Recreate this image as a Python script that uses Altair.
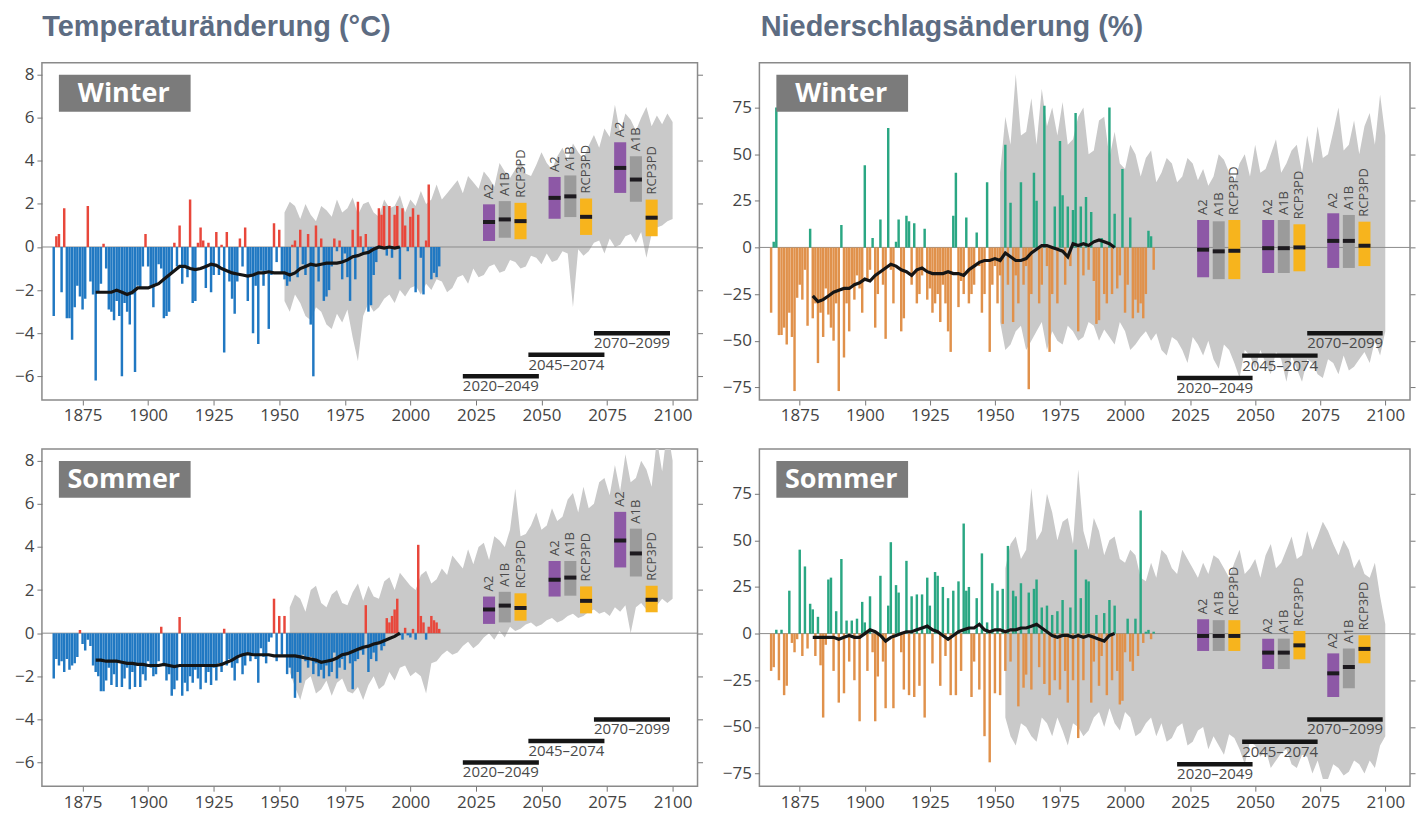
import altair as alt
import pandas as pd

FONT = "Open Sans"
TITLE_FONT = "Liberation Sans"

# ---------------- data ----------------
BAR_YEARS = list(range(1864, 2012))
LINE_YEARS = list(range(1880, 1997, 2))
BAND_YEARS_TOP = list(range(1952, 2101, 2))
BAND_YEARS_BOTTOM = list(range(1954, 2101, 2))

# Temperature winter (deg C), 1864-2011
TW_BARS = [
    -3.2, 0.5, 0.6, -2.1, 1.8, -3.3, -3.3, -4.3, -2.8, -1.8,
    -2.3, -2.9, -2.4, 1.9, -1.6, -2.2, -6.2, -2.1, -1.7, 0.15,
    -1.0, -2.9, -3.0, -3.4, -2.5, -3.2, -6.0, -2.6, -3.0, -3.6,
    -2.2, -5.8, -1.8, -1.9, -0.9, 0.6, -0.9, -1.9, -2.8, -1.8,
    -0.8, -1.0, -3.3, -3.2, -3.0, -1.2, 0.2, -0.9, 1.0, -1.7,
    -0.9, -1.4, 2.2, -2.6, -2.5, 0.2, 0.9, 0.3, -1.9, 0.2,
    -2.1, -1.3, 0.7, -1.3, 0.1, -4.9, 0.7, -1.6, -2.4, -3.1,
    -1.6, 0.4, -0.9, 0.9, -2.5, -1.3, -4.0, -1.8, -4.5, -1.1,
    -1.8, -1.1, -3.8, -1.3, 1.1, -0.7, 0.8, -1.2, -1.5, -1.8,
    -1.6, 0.1, 0.3, -1.4, 0.8, -0.8, -1.3, 0.6, -3.6, -6.0,
    1.0, -1.6, 0.4, -2.5, -2.3, -2.0, -0.9, 0.4, -0.2, 0.3,
    -1.5, -0.3, -1.4, -2.5, 0.8, -1.5, 2.1, 0.5, -0.3, 0.6,
    -3.0, -2.7, -1.3, -0.7, 1.8, 1.5, 1.9, -0.4, 1.9, -0.5,
    1.5, 1.9, -1.5, 1.8, 1.0, -0.2, 1.4, 1.8, -2.1, 1.5,
    -0.5, -2.2, 0.3, 2.9, -1.5, -1.2, -1.4, -0.9,
]
# Temperature summer (deg C), 1864-2011
TS_BARS = [
    -2.1, -1.2, -1.5, -1.3, -1.8, -1.2, -1.7, -1.5, -1.4, -1.1,
    0.15, -0.5, -0.8, -0.3, -0.6, -1.5, -1.8, -2.0, -2.7, -2.7,
    -2.2, -1.6, -2.4, -1.9, -2.5, -1.3, -2.5, -2.1, -1.6, -2.6,
    -1.8, -2.5, -1.5, -2.5, -1.9, -2.2, -1.3, -1.6, -2.0, -1.9,
    -1.3, 0.3, -1.5, -2.2, -1.9, -2.9, -2.6, -2.2, 0.75, -2.9,
    -2.3, -2.7, -2.0, -2.3, -1.7, -2.1, -2.6, -1.5, -2.3, -1.8,
    -2.4, -1.6, -2.2, -1.4, -1.8, 0.2, -1.5, -1.2, -1.6, -2.2,
    -1.4, -1.1, -1.9, -1.5, -0.9, -1.3, -1.0, -1.2, -2.3, -0.7,
    -1.1, -1.4, -0.4, -0.2, 1.6, -1.3, 0.8, -1.0, 0.8, -1.9,
    -1.6, -2.1, -3.0, -1.8, -2.3, -1.0, -1.3, -1.6, -1.1, -1.9,
    -1.4, -2.0, -1.7, -2.1, -1.5, -2.0, -1.8, -0.9, -2.1, -1.6,
    -1.2, -1.7, -1.0, -1.4, -2.6, -1.3, -1.2, -0.8, -1.0, 1.3,
    -1.8, -1.2, -0.9, -1.3, -0.5, -0.8, -0.6, 0.7, 0.5, 0.8,
    1.1, 1.6, -0.1, -0.3, 0.25, -0.1, -0.2, 0.2, -0.3, 4.1,
    0.8, 0.5, -0.3, 0.3, 0.8, 0.6, 0.5, 0.2,
]
# Precipitation winter (%), 1864-2011
PW_BARS = [
    -35, 3, 75, -47, -47, -43, -52, -35, -48, -77,
    -27, -20, -28, -12, -42, 10, -38, -30, -62, -35,
    -48, -22, -36, -43, -50, -30, -77, 12, -59, -30,
    -45, -20, -28, -15, -22, -35, 44, -18, -12, 5,
    -43, -25, 15, -20, -49, 64, -12, -30, 3, 15,
    -45, -38, 17, 14, -20, 13, -30, -25, -15, 10,
    -28, -22, -35, -30, -25, -40, -20, -30, -45, -56,
    17, 40, -32, -18, -25, 16, -30, -25, -20, 8,
    -10, -35, -25, 35, -56, -20, -10, -30, -15, -41,
    55, -20, 24, -40, -15, -30, 35, -20, -10, -76,
    -25, 40, 25, -30, -20, 76, -10, -56, -25, 22,
    -30, 57, 28, -20, 22, -10, 20, 72, -45, 22,
    -15, 27, -12, 19, -18, -41, -39, 5, -25, -30,
    75, -25, 18, -22, -15, 42, -35, -20, 16, -38,
    -28, -35, -30, -38, -25, 9, 6, -12,
]
# Precipitation summer (%), 1864-2011
PS_BARS = [
    -20, -18, 2, -25, 2, -33, -28, 23, -5, -10,
    -3, 45, -12, 36, -8, 16, 13, -12, 9, -17,
    -45, -6, 29, 30, -20, 12, -37, 40, -32, 7,
    -15, 7, -25, 8, -47, 17, 6, -20, 20, -10,
    -47, -23, 31, -15, -40, 15, 49, -40, 26, 22,
    -10, -30, 39, -33, 20, -34, 21, -28, 21, -45,
    30, 15, -16, 33, 31, -28, 25, -12, 19, -33,
    23, -33, 28, -20, 59, 23, 25, -34, -15, 19,
    -30, 43, -55, 6, -69, 27, -32, 23, -33, 24,
    -20, 47, -15, 23, 20, -39, 27, -29, -22, 22,
    -30, 24, 29, -18, 14, -27, 15, -33, 10, -25,
    12, -30, 18, -20, -37, 14, -25, 45, -56, 19,
    -25, 29, 28, -37, -15, 10, -28, -12, 11, -33,
    18, -25, 15, -20, -38, -36, -10, 8, -15, -20,
    8, -12, 66, -5, 1, 2, -3, 1,
]

# 30-year running means (1880-1996, every 2 years)
TW_LINE = [
    -2.1, -2.1, -2.1, -2.1, -2.0, -2.1, -2.2, -2.1, -1.9, -1.9,
    -1.9, -1.8, -1.7, -1.5, -1.3, -1.1, -0.9, -0.9, -1.0, -1.05,
    -1.0, -0.9, -0.8, -0.85, -1.0, -1.1, -1.2, -1.25, -1.3, -1.35,
    -1.3, -1.2, -1.2, -1.15, -1.2, -1.2, -1.2, -1.3, -1.2, -1.0,
    -0.9, -0.8, -0.85, -0.8, -0.75, -0.75, -0.75, -0.7, -0.6, -0.45,
    -0.4, -0.3, -0.25, -0.1, 0.0, -0.05, 0.0, -0.05, 0.0,
]
TS_LINE = [
    -1.25, -1.25, -1.3, -1.3, -1.3, -1.35, -1.4, -1.4, -1.45, -1.45,
    -1.5, -1.5, -1.5, -1.45, -1.5, -1.55, -1.5, -1.5, -1.5, -1.5,
    -1.5, -1.5, -1.5, -1.5, -1.45, -1.35, -1.25, -1.1, -1.0, -0.95,
    -1.0, -1.0, -1.0, -1.0, -1.05, -1.05, -1.05, -1.05, -1.05, -1.1,
    -1.15, -1.2, -1.25, -1.35, -1.3, -1.25, -1.15, -1.0, -0.95, -0.85,
    -0.75, -0.65, -0.6, -0.5, -0.45, -0.35, -0.25, -0.15, 0.0,
]
PW_LINE = [
    -26, -29, -28, -26, -24, -23, -22, -22, -20, -19,
    -17, -18, -15, -13, -11, -9, -10, -12, -13, -15,
    -12, -11, -13, -14, -14, -14, -13, -14, -14, -15,
    -12, -10, -8, -7, -7, -6, -7, -3, -5, -7,
    -7, -6, -3, -1, 1, 1, 0, -1, -2, -5,
    2, 1, 2, 1, 3, 4, 3, 2, 0,
]
PS_LINE = [
    -2, -2, -2, -2, -2, -3, -2, -1, -2, -2,
    0, 2, 1, -1, -4, -2, -1, 0, 1, 1,
    2, 3, 4, 2, 1, -1, -3, -1, 1, 2,
    3, 3, 5, 2, 1, 2, 2, 1, 2, 2,
    3, 3, 4, 5, 3, 1, -1, -2, -1, -1,
    -2, -1, -2, -1, -2, -3, -4, -1, 0,
]

# Model ensemble range (grey band), every 2 years
TW_BAND_HI = [
    1.6, 2.1, 1.9, 1.3, 2.0, 1.5, 1.2, 1.9, 1.7, 1.4,
    2.2, 1.6, 1.8, 2.3, 1.5, 2.0, 2.1, 1.6, 1.4, 2.2,
    1.8, 1.9, 2.4, 1.6, 2.2, 1.9, 2.6, 2.0, 2.2, 2.9,
    2.2, 2.5, 2.8, 3.1, 2.5, 3.3, 3.0, 2.7, 3.5, 3.2,
    2.8, 3.9, 3.5, 3.2, 3.6, 4.0, 3.4, 3.3, 3.8, 4.4,
    3.9, 3.6, 4.2, 4.6, 4.0, 4.8, 4.4, 4.1, 4.7, 5.2,
    4.6, 5.5, 5.1, 6.6, 5.3, 6.2, 5.9, 5.4, 6.0, 6.5,
    5.6, 6.1, 5.7, 6.2, 5.8,
]
TW_BAND_LO = [
    -2.5, -3.0, -2.2, -2.6, -3.2, -3.4, -2.8, -3.0, -3.6, -3.8,
    -3.1, -3.5, -2.9, -4.2, -5.3, -3.2, -2.6, -3.0, -2.8, -2.4,
    -2.2, -2.6, -2.0, -2.3, -1.9, -1.8, -2.2, -1.7, -2.0, -1.5,
    -1.6, -2.1, -1.9, -1.4, -1.3, -1.7, -1.0, -1.4, -1.3, -0.9,
    -0.8, -1.2, -1.1, -0.6, -0.7, -1.0, -0.9, -0.4, -0.5, -0.8,
    -0.3, -0.7, -0.6, -0.2, -0.3, -2.8, -0.1, -0.4, -0.2, 0.2,
    0.3, -0.3, 0.4, 0.0, 0.1, 0.5, 0.6, 0.2, 0.7, -0.5,
    0.6, 0.9, 1.0, 1.2, 1.3,
]
TS_BAND_HI = [
    1.2, 1.8, 1.6, 1.0, 2.0, 2.2, 1.4, 1.2, 1.8, 2.0,
    1.4, 1.3, 1.9, 2.3, 1.5, 2.2, 1.7, 1.6, 2.4, 2.6,
    2.0, 2.8, 2.5, 2.2, 2.0, 2.7, 2.9, 2.3, 2.5, 3.0,
    2.7, 3.6, 3.3, 3.0, 3.9, 3.2, 4.0, 4.2, 3.4, 4.5,
    4.3, 4.0, 4.8, 6.7, 4.5, 4.6, 5.0, 5.6, 4.8, 5.0,
    5.8, 5.2, 5.4, 6.2, 6.5, 5.6, 6.8, 5.8, 6.0, 7.0,
    7.2, 6.4, 7.8, 6.6, 8.3, 7.0, 7.2, 8.0, 7.6, 6.8,
    9.0, 7.5, 9.5, 8.0,
]
TS_BAND_LO = [
    -1.8, -2.5, -3.1, -2.2, -2.0, -2.8, -2.6, -2.2, -2.9, -2.3,
    -2.1, -2.7, -2.8, -2.5, -3.1, -2.4, -2.0, -2.6, -2.4, -1.8,
    -2.2, -1.6, -1.5, -2.0, -1.8, -2.0, -2.8, -1.4, -1.3, -1.0,
    -0.8, -1.0, -0.9, -0.6, -0.4, -0.7, -0.5, -0.2, 0.0, -0.3,
    0.1, -0.2, 0.3, 0.1, 0.2, 0.4, 0.5, 0.3, 0.4, 0.6,
    0.7, 0.5, 0.6, 0.8, 0.9, 0.7, 0.8, 1.0, 1.1, 0.9,
    1.0, 0.8, 1.2, 1.0, 1.3, 0.0, 1.2, 1.4, 1.1, 1.5,
    1.3, 1.6, 1.4, 1.6,
]
PW_BAND_HI = [
    40, 70, 55, 93, 60, 62, 80, 55, 85, 65,
    75, 60, 78, 55, 58, 70, 75, 50, 52, 68,
    70, 48, 62, 45, 42, 55, 50, 38, 48, 52,
    35, 40, 48, 45, 35, 38, 48, 45, 36, 42,
    33, 38, 50, 47, 40, 35, 45, 50, 38, 55,
    40, 42, 50, 58, 40, 45, 52, 55, 40, 60,
    45, 65, 48, 50, 62, 75, 52, 55, 68, 50,
    65, 72, 55, 82, 60,
]
PW_BAND_LO = [
    -40, -55, -52, -45, -42, -55, -50, -45, -40, -55,
    -45, -50, -52, -42, -45, -50, -48, -40, -42, -50,
    -44, -48, -52, -40, -45, -55, -52, -48, -45, -50,
    -46, -55, -58, -48, -50, -55, -62, -48, -52, -58,
    -50, -60, -65, -52, -55, -62, -70, -55, -58, -65,
    -55, -62, -68, -56, -60, -72, -58, -65, -72, -60,
    -62, -68, -70, -60, -62, -68, -58, -66, -64, -60,
    -56, -62, -50, -58, -45,
]
PS_BAND_HI = [
    35, 48, 52, 40, 45, 78, 50, 55, 75, 65,
    50, 60, 62, 48, 88, 55, 45, 62, 55, 42,
    50, 52, 40, 38, 45, 42, 30, 28, 38, 30,
    45, 42, 35, 32, 45, 40, 35, 30, 38, 32,
    42, 40, 35, 30, 38, 45, 32, 35, 40, 30,
    42, 48, 35, 38, 45, 52, 40, 42, 55, 45,
    52, 60, 55, 48, 42, 50, 45, 35, 40, 32,
    30, 38, 20, 5,
]
PS_BAND_LO = [
    -45, -55, -60, -48, -50, -55, -58, -45, -48, -55,
    -45, -52, -60, -48, -50, -55, -52, -45, -42, -50,
    -40, -48, -52, -42, -45, -55, -53, -48, -45, -55,
    -48, -58, -56, -50, -48, -60, -58, -52, -50, -62,
    -55, -60, -65, -54, -56, -62, -70, -58, -60, -66,
    -62, -72, -68, -64, -62, -70, -72, -65, -66, -75,
    -68, -78, -78, -70, -72, -76, -74, -68, -70, -75,
    -68, -72, -60, -55,
]

# Scenario projections (box = range, tick = median)
SCENARIOS = ["A2", "A1B", "RCP3PD"] * 3
BOX_CENTERS = [2030, 2036, 2042, 2055, 2061, 2067, 2080, 2086, 2092]
TW_BOX_LO = [0.28, 0.43, 0.36, 1.31, 1.39, 0.56, 2.51, 2.10, 0.50]
TW_BOX_HI = [1.98, 2.13, 2.05, 3.25, 3.32, 2.25, 4.86, 4.21, 2.20]
TW_BOX_MED = [1.16, 1.28, 1.20, 2.28, 2.35, 1.40, 3.67, 3.13, 1.36]
TS_BOX_LO = [0.43, 0.50, 0.58, 1.70, 1.74, 0.92, 3.05, 2.63, 0.97]
TS_BOX_HI = [1.70, 1.92, 1.85, 3.35, 3.35, 2.17, 5.63, 4.85, 2.20]
TS_BOX_MED = [1.10, 1.28, 1.17, 2.48, 2.58, 1.50, 4.30, 3.70, 1.55]
PW_BOX_LO = [-16, -17, -17, -13.7, -13.7, -12.8, -11, -11, -10]
PW_BOX_HI = [14.7, 14, 14.7, 14.7, 14.7, 12.4, 18.3, 17.4, 13.8]
PW_BOX_MED = [-1.2, -2.1, -1.8, -0.4, -0.4, 0, 3.5, 3.5, 0.9]
PS_BOX_LO = [-9.3, -9.3, -9.3, -19, -19, -13.8, -34, -29.3, -15.9]
PS_BOX_HI = [7.7, 7.2, 7.2, -2.7, -2.7, 1.4, -10.6, -8, -0.9]
PS_BOX_MED = [-1.25, -1.25, -1.25, -10.2, -10.2, -6.3, -21.3, -17.9, -8.2]

PERIOD_START = [2020, 2045, 2070]
PERIOD_END = [2049, 2074, 2099]
PERIOD_LABELS = ["2020–2049", "2045–2074", "2070–2099"]
TEMP_PERIOD_LEVEL = [-6, -5, -4]
PREC_PERIOD_LEVEL = [-70, -58, -46]

X_TICKS = [1875, 1900, 1925, 1950, 1975, 2000, 2025, 2050, 2075, 2100]
TEMP_TICKS = [-6, -4, -2, 0, 2, 4, 6, 8]
PREC_TICKS = [-75, -50, -25, 0, 25, 50, 75]

# ---------------- styling ----------------
X_DOMAIN = [1859.5, 2109.5]
TEMP_DOMAIN = [-7.1, 8.55]
PREC_DOMAIN = [-81.8, 99.0]
H = 338
SCEN_ORDER = ["A2", "A1B", "RCP3PD"]
SCEN_COLORS = ["#8d58a6", "#9b9b9b", "#f7b41d"]
TICK_COL = "#777777"
LAB_COL = "#444444"


def make_panel(bar_vals, pos_col, neg_col, band_years, band_lo, band_hi, line_vals,
               box_lo, box_hi, box_med, period_levels, ydomain, yticks, label,
               width, left_extent):
    xs = alt.Scale(domain=X_DOMAIN, nice=False, zero=False)
    ys = alt.Scale(domain=ydomain, nice=False, zero=False)

    bars_df = pd.DataFrame({"year": BAR_YEARS, "value": bar_vals})
    bars_df["zero"] = 0.0
    band_df = pd.DataFrame({"year": band_years, "lo": band_lo, "hi": band_hi})
    line_df = pd.DataFrame({"year": LINE_YEARS, "value": line_vals})
    box_df = pd.DataFrame({"center": BOX_CENTERS, "scenario": SCENARIOS,
                           "lo": box_lo, "hi": box_hi, "med": box_med})
    per_df = pd.DataFrame({"start": PERIOD_START, "end": PERIOD_END,
                           "label": PERIOD_LABELS, "level": period_levels})
    lab_df = pd.DataFrame({"label": [label]})
    zero_df = pd.DataFrame({"z": [0.0]})

    # identical x axis in every layer -> merged into one shared axis
    def x_axis():
        return alt.Axis(values=X_TICKS, format="d", title=None, grid=False, domain=False,
                        tickSize=5, tickColor=TICK_COL, tickWidth=1, labelFontSize=17,
                        labelColor=LAB_COL, labelFont=FONT, labelPadding=3,
                        minExtent=22, maxExtent=22, orient="bottom")

    def X(field):
        return alt.X(field, scale=xs, axis=x_axis())

    yl_axis = alt.Axis(orient="left", values=yticks, format="d", title=None, grid=False,
                       domain=False, tickSize=5, tickColor=TICK_COL, tickWidth=1,
                       labelFontSize=17, labelColor=LAB_COL, labelFont=FONT,
                       labelPadding=3, minExtent=left_extent, maxExtent=left_extent)
    yr_axis = alt.Axis(orient="right", values=yticks, labels=False, title=None,
                       grid=False, domain=False, tickSize=5, tickColor=TICK_COL,
                       tickWidth=1, minExtent=6, maxExtent=6)

    band = alt.Chart(band_df).mark_area(color="#c9c9c9", clip=True).encode(
        x=X("year:Q"),
        y=alt.Y("lo:Q", scale=ys, axis=yr_axis),
        y2="hi:Q",
    )
    zero = alt.Chart(zero_df).mark_rule(color="#8c8c8c", strokeWidth=1).encode(
        y=alt.Y("z:Q", scale=ys, axis=None)
    )
    bars = alt.Chart(bars_df).transform_calculate(
        x0="datum.year - 0.47", x1="datum.year + 0.47"
    ).mark_rect(clip=True).encode(
        x=X("x0:Q"),
        x2="x1:Q",
        y=alt.Y("value:Q", scale=ys, axis=yl_axis),
        y2="zero:Q",
        color=alt.condition("datum.value >= 0", alt.value(pos_col), alt.value(neg_col)),
    )
    line = alt.Chart(line_df).mark_line(color="#151515", strokeWidth=3.2).encode(
        x=X("year:Q"),
        y=alt.Y("value:Q", scale=ys, axis=None),
    )
    boxes = alt.Chart(box_df).transform_calculate(
        x0="datum.center - 2.3", x1="datum.center + 2.3"
    ).mark_rect().encode(
        x=X("x0:Q"),
        x2="x1:Q",
        y=alt.Y("lo:Q", scale=ys, axis=None),
        y2="hi:Q",
        color=alt.Color("scenario:N", scale=alt.Scale(domain=SCEN_ORDER, range=SCEN_COLORS),
                        legend=None),
    )
    meds = alt.Chart(box_df).transform_calculate(
        x0="datum.center - 2.3", x1="datum.center + 2.3"
    ).mark_rule(color="#1d1a1f", strokeWidth=4).encode(
        x=X("x0:Q"),
        x2="x1:Q",
        y=alt.Y("med:Q", scale=ys, axis=None),
    )
    box_labels = alt.Chart(box_df).mark_text(
        angle=270, align="left", baseline="middle", dx=5, fontSize=13,
        color="#4a4a4a", font=FONT
    ).encode(
        x=X("center:Q"),
        y=alt.Y("hi:Q", scale=ys, axis=None),
        text="scenario:N",
    )
    pbars = alt.Chart(per_df).mark_rule(color="#151515", strokeWidth=4.5).encode(
        x=X("start:Q"),
        x2="end:Q",
        y=alt.Y("level:Q", scale=ys, axis=None),
    )
    plabels = alt.Chart(per_df).mark_text(
        align="left", baseline="top", dy=3, fontSize=15, color="#4a4a4a", font=FONT
    ).encode(
        x=X("start:Q"),
        y=alt.Y("level:Q", scale=ys, axis=None),
        text="label:N",
    )
    lbox = alt.Chart(lab_df).mark_rect(color="#7b7b7b").encode(
        x=alt.value(17), x2=alt.value(149), y=alt.value(12), y2=alt.value(49)
    )
    ltext = alt.Chart(lab_df).mark_text(
        align="center", baseline="middle", fontSize=27, fontWeight="bold",
        color="white", font=FONT
    ).encode(x=alt.value(82), y=alt.value(31), text="label:N")

    return alt.layer(band, zero, bars, line, boxes, meds, box_labels, pbars, plabels,
                     lbox, ltext).properties(width=width, height=H)


W_L = 657
W_R = 652

tl = make_panel(TW_BARS, "#e8473b", "#2078c2", BAND_YEARS_TOP, TW_BAND_LO, TW_BAND_HI,
                TW_LINE, TW_BOX_LO, TW_BOX_HI, TW_BOX_MED, TEMP_PERIOD_LEVEL,
                TEMP_DOMAIN, TEMP_TICKS, "Winter", W_L, 33)
bl = make_panel(TS_BARS, "#e8473b", "#2078c2", BAND_YEARS_BOTTOM, TS_BAND_LO, TS_BAND_HI,
                TS_LINE, TS_BOX_LO, TS_BOX_HI, TS_BOX_MED, TEMP_PERIOD_LEVEL,
                TEMP_DOMAIN, TEMP_TICKS, "Sommer", W_L, 33)
tr = make_panel(PW_BARS, "#2aa783", "#e0914b", BAND_YEARS_TOP, PW_BAND_LO, PW_BAND_HI,
                PW_LINE, PW_BOX_LO, PW_BOX_HI, PW_BOX_MED, PREC_PERIOD_LEVEL,
                PREC_DOMAIN, PREC_TICKS, "Winter", W_R, 44)
br = make_panel(PS_BARS, "#2aa783", "#e0914b", BAND_YEARS_BOTTOM, PS_BAND_LO, PS_BAND_HI,
                PS_LINE, PS_BOX_LO, PS_BOX_HI, PS_BOX_MED, PREC_PERIOD_LEVEL,
                PREC_DOMAIN, PREC_TICKS, "Sommer", W_R, 44)

TITLE_STYLE = dict(anchor="start", fontSize=29, fontWeight="bold", color="#5d6c82",
                   font=TITLE_FONT, offset=20)

left = alt.vconcat(tl, bl, spacing=23,
                   title=alt.TitleParams("Temperaturänderung (°C)", dx=34, **TITLE_STYLE))
right = alt.vconcat(tr, br, spacing=23,
                    title=alt.TitleParams("Niederschlagsänderung (%)", dx=46, **TITLE_STYLE))

chart = alt.hconcat(left, right, spacing=10).properties(
    padding={"left": 0, "top": 4, "right": 0, "bottom": 0}
).configure_view(stroke="#8a8a8a", strokeWidth=1.5)

chart.save("out.html", embed_options={"renderer": "svg", "actions": False})
